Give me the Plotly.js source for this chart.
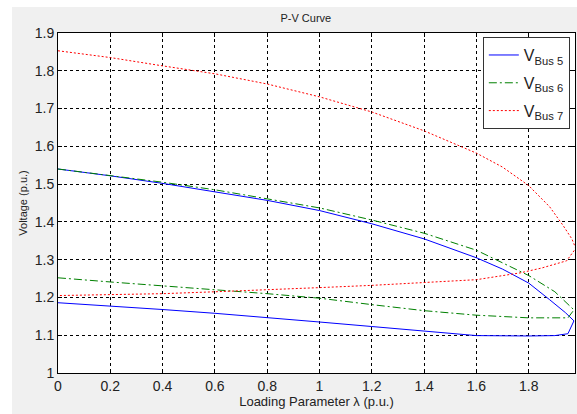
<!DOCTYPE html>
<html><head><meta charset="utf-8">
<script src="https://cdn.plot.ly/plotly-3.0.1.min.js"></script>
<style>html,body{margin:0;padding:0;background:#fff;width:577px;height:414px;overflow:hidden}
#plot{position:absolute;left:12px;top:7px;width:565px;height:407px}</style>
</head><body><div id="plot"></div>
<script>
// Bus 5 (upper branch then lower branch, traced through the nose)
const bus5Lambda = [0,0.2,0.4,0.6,0.8,1.0,1.2,1.4,1.6,1.7,1.8,1.88,1.94,1.973, 1.95,1.9,1.8,1.6,1.4,1.2,1.0,0.8,0.6,0.4,0.2,0];
const bus5V      = [1.54,1.522,1.502,1.48,1.457,1.43,1.395,1.355,1.305,1.275,1.238,1.194,1.16,1.138, 1.104,1.099,1.098,1.099,1.11,1.123,1.135,1.147,1.158,1.168,1.177,1.186];
// Bus 6
const bus6Lambda = [0,0.2,0.4,0.6,0.8,1.0,1.2,1.4,1.6,1.8,1.9,1.973, 1.95,1.8,1.6,1.4,1.2,1.0,0.8,0.6,0.4,0.2,0];
const bus6V      = [1.54,1.523,1.505,1.485,1.462,1.437,1.405,1.37,1.325,1.258,1.215,1.167, 1.146,1.146,1.153,1.165,1.181,1.198,1.21,1.22,1.231,1.241,1.252];
// Bus 7
const bus7Lambda = [0,0.2,0.4,0.6,0.8,1.0,1.2,1.4,1.6,1.7,1.8,1.88,1.93,1.965,1.98, 1.96,1.945,1.85,1.767,1.6,1.4,1.2,1.0,0.8,0.6,0.4,0.2,0];
const bus7V      = [1.853,1.835,1.813,1.792,1.765,1.731,1.691,1.641,1.582,1.545,1.496,1.44,1.392,1.355,1.33, 1.31,1.297,1.278,1.265,1.247,1.239,1.232,1.226,1.22,1.215,1.21,1.207,1.205];
const seriesNames = ['V<sub>Bus 5</sub>','V<sub>Bus 6</sub>','V<sub>Bus 7</sub>'];

const traces = [
  {x: bus5Lambda, y: bus5V, name: seriesNames[0], legendgroup:'a', mode:'lines', line:{color:'#0000ff', width:1}},
  {x: bus6Lambda, y: bus6V, name: seriesNames[1], legendgroup:'b', mode:'lines', line:{color:'#008000', width:1, dash:'8px,3px,2px,3px'}},
  {x: bus7Lambda, y: bus7V, name: seriesNames[2], legendgroup:'c', mode:'lines', line:{color:'#ff0000', width:1, dash:'2px,2px'}}
];
const fam = '"Liberation Sans Narrow", "Liberation Sans", Arial, sans-serif';
const axisCommon = {
  showline:true, linecolor:'#000', linewidth:1, mirror:'ticks',
  ticks:'inside', ticklen:4, tickcolor:'#000',
  showgrid:true, gridcolor:'#000', griddash:'3px,3px', gridwidth:1,
  zeroline:false, tickfont:{family:fam, size:14, color:'#222'}
};
const layout = {
  width:565, height:407,
  margin:{l:46, r:2, t:26, b:41},
  paper_bgcolor:'#f0f0f0', plot_bgcolor:'#fff',
  title:{text:'P-V Curve', font:{family:fam, size:11, color:'#222'}, x:0.52, xanchor:'center', y:0.972, yanchor:'middle'},
  xaxis: Object.assign({}, axisCommon, {range:[0,1.977], dtick:0.2, tick0:0,
    title:{text:'Loading Parameter λ (p.u.)', font:{family:fam, size:13, color:'#222'}, standoff:4}}),
  yaxis: Object.assign({}, axisCommon, {range:[1,1.9], dtick:0.1, tick0:1,
    title:{text:'Voltage (p.u.)', font:{family:fam, size:11, color:'#222'}, standoff:4}}),
  legend:{x:0.99, xanchor:'right', y:0.988, yanchor:'top', bgcolor:'#fff', bordercolor:'#333', borderwidth:1,
    font:{family:fam, size:16, color:'#222'}, tracegroupgap:4},
  showlegend:true
};
Plotly.newPlot('plot', traces, layout, {displayModeBar:false, staticPlot:true});
</script></body></html>
